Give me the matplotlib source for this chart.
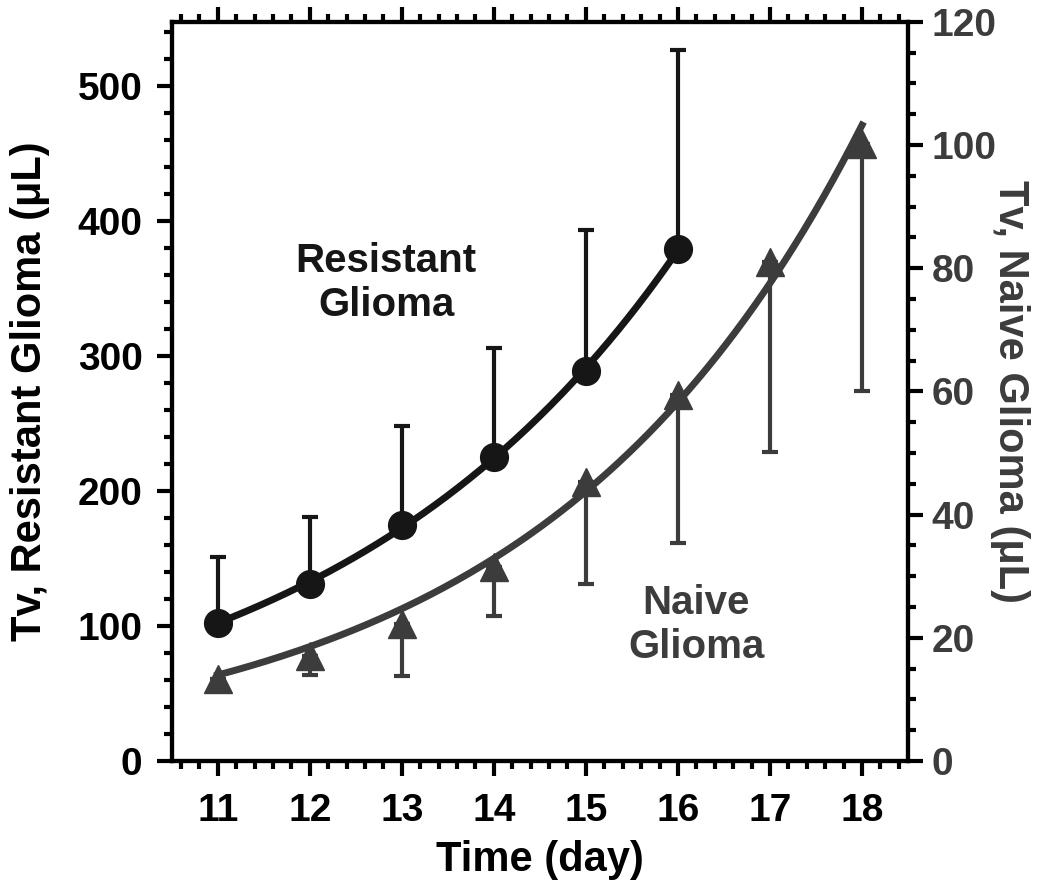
import numpy as np
import matplotlib
matplotlib.use("Agg")
import matplotlib.pyplot as plt
from matplotlib.ticker import MultipleLocator

plt.rcParams['font.family'] = ['Liberation Sans', 'DejaVu Sans']
plt.rcParams['font.weight'] = 'bold'

# data
days_res = [11, 12, 13, 14, 15, 16]
tv_res = [102, 131, 175, 225, 289, 379]
err_res = [49, 50, 73, 81, 104, 148]          # upper error only

days_naive = [11, 12, 13, 14, 15, 16, 17, 18]
tv_naive = [13.3, 17.1, 22.2, 31.5, 45.3, 59.4, 81.0, 100.2]
err_naive = [0, 3.1, 8.4, 8.0, 16.5, 24.1, 30.8, 40.2]   # lower error only

BLACK = '#161616'
GRAY = '#3c3c3c'


def exp_fit(x, y, x_lo, x_hi):
    # exponential fit; weights ~ y so it behaves like a fit on the raw values
    y = np.asarray(y, float)
    b, a = np.polyfit(np.asarray(x, float), np.log(y), 1, w=y)
    xx = np.linspace(x_lo, x_hi, 200)
    return xx, np.exp(a + b * xx)


fig = plt.figure(figsize=(10.5, 8.9), dpi=100)
ax = fig.add_axes([0.1635, 0.145, 0.7013, 0.8306])
ax2 = ax.twinx()

# resistant glioma (left axis)
xx, yy = exp_fit(days_res, tv_res, 11, 16)
ax.plot(xx, yy, color=BLACK, lw=5, zorder=3)
ax.errorbar(days_res, tv_res, yerr=[np.zeros(len(err_res)), err_res],
            fmt='o', color=BLACK, ms=20, elinewidth=3, capsize=6, capthick=3,
            zorder=4)

# naive glioma (right axis)
xx, yy = exp_fit(days_naive, tv_naive, 11, 18)
ax2.plot(xx, yy, color=GRAY, lw=5, zorder=3)
ax2.errorbar(days_naive, tv_naive, yerr=[err_naive, np.zeros(len(err_naive))],
             fmt='^', color=GRAY, ms=20, elinewidth=3, capsize=6, capthick=3,
             zorder=4)

ax.set_xlim(10.5, 18.5)
ax.set_ylim(0, 547.6)
ax2.set_ylim(0, 120)

ax.xaxis.set_major_locator(MultipleLocator(1))
ax.xaxis.set_minor_locator(MultipleLocator(0.2))
ax.yaxis.set_major_locator(MultipleLocator(100))
ax.yaxis.set_minor_locator(MultipleLocator(20))
ax2.yaxis.set_major_locator(MultipleLocator(20))
ax2.yaxis.set_minor_locator(MultipleLocator(5))

for a in (ax, ax2):
    for s in a.spines.values():
        s.set_linewidth(3)
        s.set_color('black')

ax.tick_params(axis='x', which='both', direction='out', top=True, bottom=True,
               width=3, labelsize=28, pad=12, color='black')
ax.tick_params(axis='x', which='major', length=11)
ax.tick_params(axis='x', which='minor', length=6)
ax.tick_params(axis='y', which='both', direction='out', width=3, labelsize=28,
               pad=10)
ax.tick_params(axis='y', which='major', length=11)
ax.tick_params(axis='y', which='minor', length=6)
ax2.tick_params(axis='y', which='both', direction='out', width=3, labelsize=28,
                pad=6, labelcolor=GRAY, color='black')
ax2.tick_params(axis='y', which='major', length=11)
ax2.tick_params(axis='y', which='minor', length=6)

ax.set_xlabel('Time (day)', fontsize=30, fontweight='bold', va='center')
ax.xaxis.set_label_coords(0.5, -0.134)
ax.set_ylabel('Tv, Resistant Glioma (\u03bcL)', fontsize=30, fontweight='bold',
              va='center')
ax.yaxis.set_label_coords(-0.1925, 0.5)
ax2.set_ylabel('Tv, Naive Glioma (\u03bcL)', fontsize=30, fontweight='bold',
               color=GRAY, rotation=270, va='center')
ax2.yaxis.set_label_coords(1.139, 0.5)

ax.text(12.83, 354, 'Resistant\nGlioma', fontsize=29, fontweight='bold',
        color=BLACK, ha='center', va='center', linespacing=1.2)
ax2.text(16.2, 22, 'Naive\nGlioma', fontsize=29, fontweight='bold',
         color=GRAY, ha='center', va='center', linespacing=1.2)

fig.savefig('out.png', dpi=100)
